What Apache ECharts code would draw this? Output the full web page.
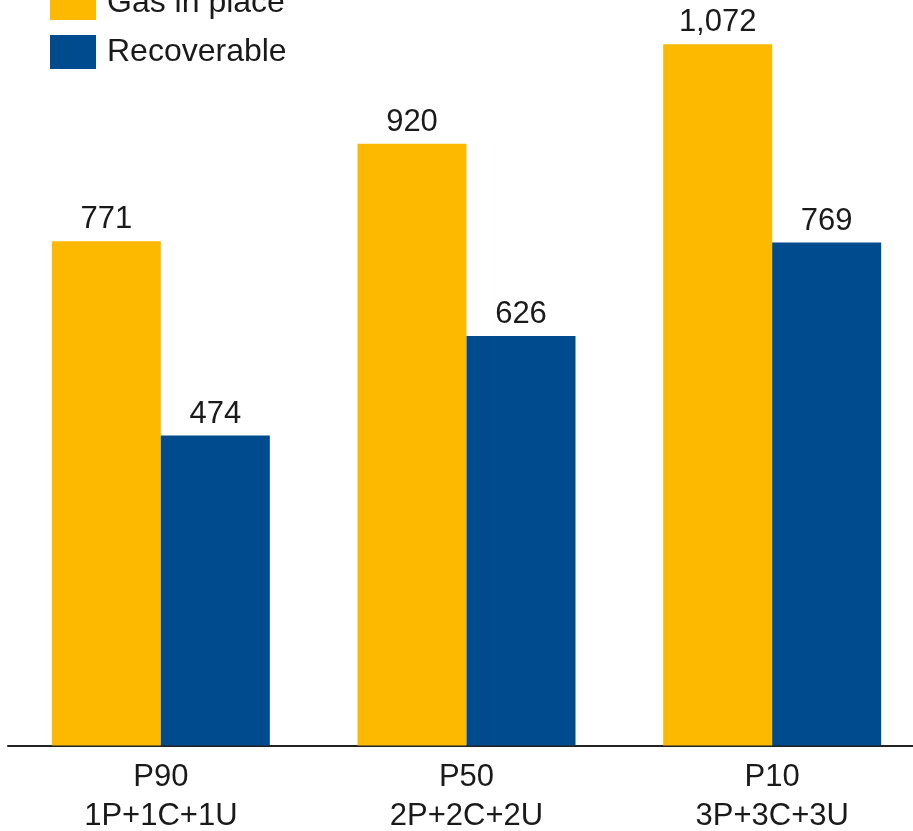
<!DOCTYPE html>
<html>
<head>
<meta charset="utf-8">
<script src="https://cdn.jsdelivr.net/npm/echarts@6/dist/echarts.min.js"></script>
<style>
  html, body { margin: 0; padding: 0; background: #ffffff; }
  #chart { width: 913px; height: 831px; }
</style>
</head>
<body>
<div id="chart"></div>
<script>
// Resource estimates by confidence level (Bcm)
const categories = ['P90\n1P+1C+1U', 'P50\n2P+2C+2U', 'P10\n3P+3C+3U'];
const gasInPlace = [771, 920, 1072];
const recoverable = [474, 626, 769];
const seriesNames = ['Gas in place', 'Recoverable'];

const FONT = 'Liberation Sans, Arial, sans-serif';
const TEXT = '#1a1a1a';

const valueLabel = {
  show: true,
  position: 'top',
  distance: 6,
  color: TEXT,
  fontFamily: FONT,
  fontSize: 31,
  formatter: p => p.value.toLocaleString('en-US')
};

const chart = echarts.init(document.getElementById('chart'), null, { renderer: 'canvas' });
chart.setOption({
  animation: false,
  backgroundColor: '#ffffff',
  legend: {
    orient: 'vertical',
    left: 45,
    top: -19,
    itemWidth: 46,
    itemHeight: 34,
    itemGap: 15,
    icon: 'rect',
    data: seriesNames,
    textStyle: { color: TEXT, fontFamily: FONT, fontSize: 32, padding: [0, 0, 0, 6] }
  },
  // the plot runs slightly past the right edge so the last group sits flush
  grid: {
    left: 8, right: -12, top: 26, bottom: 85.5,
    containLabel: false,
    outerBoundsMode: 'none'
  },
  xAxis: {
    type: 'category',
    data: categories,
    axisLine: { show: true, lineStyle: { color: '#222222', width: 2 } },
    axisTick: { show: false },
    axisLabel: {
      color: TEXT,
      fontFamily: FONT,
      fontSize: 31,
      lineHeight: 39,
      margin: 12,
      interval: 0
    }
  },
  yAxis: {
    type: 'value',
    min: 0,
    max: 1100,
    show: false,
    splitLine: { show: false }
  },
  series: [
    {
      name: seriesNames[0],
      type: 'bar',
      data: gasInPlace,
      barWidth: 109,
      barGap: '0%',
      itemStyle: { color: '#FDB900' },
      label: valueLabel
    },
    {
      name: seriesNames[1],
      type: 'bar',
      data: recoverable,
      barWidth: 109,
      barGap: '0%',
      itemStyle: { color: '#004B8D' },
      label: valueLabel
    }
  ]
});
</script>
</body>
</html>
